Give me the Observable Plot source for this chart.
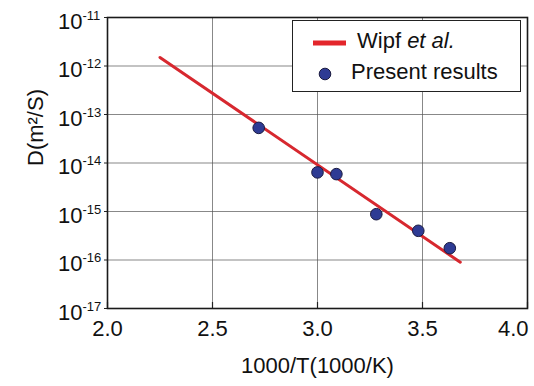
<!DOCTYPE html>
<html>
<head>
<meta charset="utf-8">
<script src="https://cdn.jsdelivr.net/npm/d3@7"></script>
<script src="https://cdn.jsdelivr.net/npm/@observablehq/plot@0.6"></script>
<style>
  html, body { margin: 0; padding: 0; background: #fff; }
  #wrap { position: relative; width: 534px; height: 386px; font-family: "Liberation Sans", Arial, Helvetica, sans-serif; }
  #legend { position: absolute; left: 292px; top: 20px; width: 229px; height: 72px; background: #fff; border: 1px solid #222; box-sizing: border-box; }
  .lrow { position: absolute; font-size: 22px; color: #111; white-space: nowrap; }
</style>
</head>
<body>
<div id="wrap"></div>
<script>
// Data
const xTicks = [2.0, 2.5, 3.0, 3.5, 4.0];
const yExponents = [-11, -12, -13, -14, -15, -16, -17];
const wipfX = [2.25, 3.68];
const wipfD = [1.5e-12, 9.0e-17];
const presentX = [2.72, 3.00, 3.09, 3.28, 3.48, 3.63];
const presentD = [5.3e-14, 6.4e-15, 5.9e-15, 8.8e-16, 4.0e-16, 1.75e-16];
const seriesNames = ["Wipf", "Present results"];

const wipf = wipfX.map((x, i) => ({x, d: wipfD[i]}));
const present = presentX.map((x, i) => ({x, d: presentD[i]}));
const yTicks = yExponents.map(e => Math.pow(10, e));
const font = "Liberation Sans, Arial, Helvetica, sans-serif";

const chart = Plot.plot({
  width: 534,
  height: 386,
  marginLeft: 107,
  marginRight: 7,
  marginTop: 17,
  marginBottom: 78,
  style: {fontFamily: font, background: "#fff", color: "#111"},
  x: {domain: [2, 4]},
  y: {type: "log", domain: [1e-17, 1e-11]},
  marks: [
    Plot.gridX(xTicks, {stroke: "#555", strokeOpacity: 1, strokeWidth: 0.7}),
    Plot.gridY(yTicks, {stroke: "#555", strokeOpacity: 1, strokeWidth: 0.7}),
    Plot.axisX({ticks: xTicks, tickSize: -6, tickFormat: () => "", label: null, stroke: "#222", strokeWidth: 1.2}),
    Plot.axisY({ticks: yTicks, tickSize: 3, tickFormat: () => "", label: null, stroke: "#222"}),
    // y tick labels: 10 with superscript exponent
    Plot.text(yExponents, {y: e => Math.pow(10, e), text: () => "10", frameAnchor: "left", textAnchor: "end", dx: -25, dy: 4, fontSize: 22, fill: "#111"}),
    Plot.text(yExponents, {y: e => Math.pow(10, e), text: e => String(e), frameAnchor: "left", textAnchor: "start", dx: -25, dy: -2, fontSize: 13, fill: "#111"}),
    // x tick labels
    Plot.text(xTicks.slice(0, -1), {x: d => d, text: d => d.toFixed(1), frameAnchor: "bottom", dy: 27, fontSize: 22, fill: "#111"}),
    Plot.text(xTicks.slice(-1), {x: d => d, text: d => d.toFixed(1), frameAnchor: "bottom", textAnchor: "end", dx: 1, dy: 27, fontSize: 22, fill: "#111"}),
    // axis titles
    Plot.text(["1000/T(1000/K)"], {text: d => d, frameAnchor: "bottom", dy: 64, fontSize: 22, fill: "#111"}),
    Plot.text(["D(m²/S)"], {text: d => d, frameAnchor: "left", rotate: -90, dx: -72, dy: 3, fontSize: 22, fill: "#111"}),
    Plot.line(wipf, {x: "x", y: "d", stroke: "#d7282f", strokeWidth: 3}),
    Plot.dot(present, {x: "x", y: "d", r: 5.8, fill: "#2e3b94", stroke: "#1a1a40", strokeWidth: 1}),
    Plot.frame({stroke: "#1a1a1a", strokeWidth: 1.6})
  ]
});

const wrap = document.getElementById("wrap");
wrap.appendChild(chart);

// Legend (inside plot area)
const legend = document.createElement("div");
legend.id = "legend";
legend.innerHTML = `
  <svg width="227" height="70" style="position:absolute;left:0;top:0">
    <line x1="20" x2="53" y1="22" y2="22" stroke="#e3262b" stroke-width="5"/>
    <circle cx="32" cy="53" r="5.8" fill="#2e3b94" stroke="#1a1a40" stroke-width="1"/>
  </svg>
  <div class="lrow" style="left:64px; top:7px;">${seriesNames[0]} <i>et al.</i></div>
  <div class="lrow" style="left:58px; top:38px;">${seriesNames[1]}</div>
`;
wrap.appendChild(legend);
</script>
</body>
</html>
